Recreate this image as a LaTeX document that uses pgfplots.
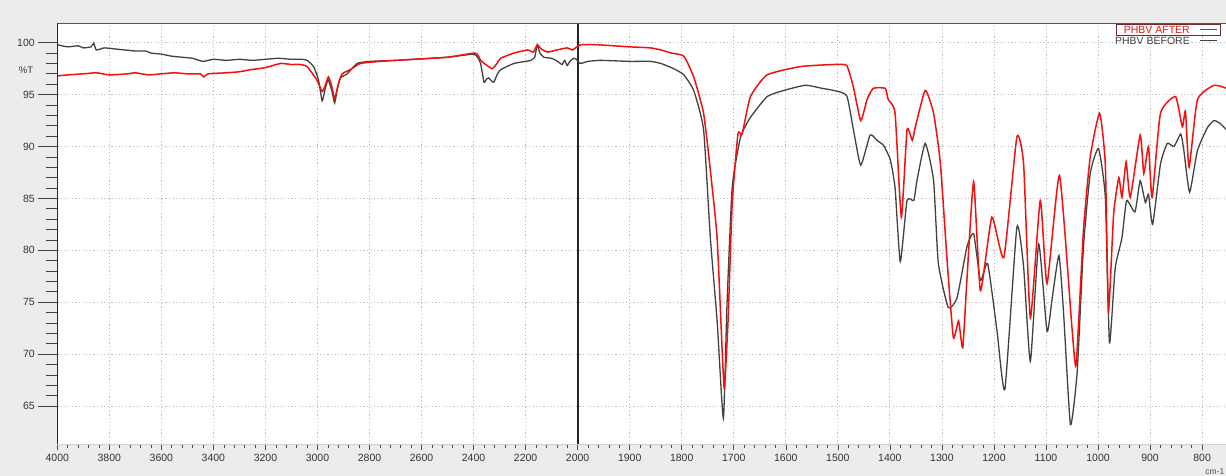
\documentclass[border=0pt]{standalone}
\usepackage{pgfplots}
\pgfplotsset{compat=1.18}
\usepackage{pgfplotstable}
\usepackage{fontspec}
\setmainfont{Liberation Sans}

\definecolor{spred}{RGB}{245,15,15}
\definecolor{spgray}{RGB}{65,65,65}
\definecolor{bgc}{RGB}{236,236,236}

% wavenumber (cm-1) and %T
\pgfplotstableread{
wn T
4000 99.8
3960 99.6
3920 99.7
3900 99.5
3870 99.6
3860 99.95
3850 99.3
3820 99.5
3780 99.4
3740 99.3
3700 99.2
3660 99.2
3640 99.0
3600 98.9
3560 98.7
3520 98.6
3480 98.5
3440 98.2
3400 98.4
3350 98.3
3300 98.4
3250 98.3
3200 98.4
3150 98.5
3100 98.4
3060 98.4
3040 98.3
3015 97.7
2996 96.4
2982 94.4
2970 95.6
2959 96.4
2945 95.4
2934 94.2
2924 95.5
2912 96.6
2886 97.0
2848 98.0
2800 98.2
2700 98.3
2630 98.4
2500 98.6
2400 98.9
2385 98.6
2373 98.0
2360 96.2
2350 96.5
2342 96.6
2330 96.3
2322 96.2
2310 96.9
2296 97.4
2245 98.0
2200 98.2
2180 98.3
2165 98.6
2155 99.8
2145 99.0
2130 98.6
2100 98.5
2077 98.2
2060 97.9
2050 98.3
2040 97.8
2030 98.2
2015 98.5
2005 98.4
1995 98.0
1980 98.2
1956 98.3
1900 98.2
1860 98.2
1840 98.0
1820 97.6
1808 97.3
1796 96.9
1777 95.4
1758 91.6
1745 81.2
1732 73.2
1720 63.8
1713 74.8
1703 86.1
1687 90.9
1668 92.8
1636 94.8
1604 95.4
1562 95.9
1530 95.6
1508 95.4
1483 94.9
1470 91.6
1456 88.2
1438 91.1
1425 90.6
1412 90.1
1399 88.7
1390 86.0
1380 78.9
1367 84.8
1354 84.8
1348 86.7
1332 90.3
1316 86.7
1307 78.8
1288 74.5
1271 75.4
1252 80.3
1239 81.6
1226 77.1
1212 78.7
1194 72.2
1179 66.6
1156 82.2
1143 78.4
1130 69.3
1114 80.6
1098 72.2
1088 75.4
1075 79.5
1066 73.8
1053 63.2
1040 68.3
1028 80.3
1015 87.4
999 89.8
986 85.1
978 71.1
967 78.3
954 81.2
945 84.8
929 83.7
919 86.7
909 84.6
903 85.4
895 82.5
880 88.3
867 90.3
854 90.0
841 91.2
835 89.6
824 85.6
809 89.6
790 91.8
777 92.5
765 92.2
753 91.6
}\before

\pgfplotstableread{
wn T
4000 96.8
3960 96.9
3900 97.0
3850 97.1
3800 96.9
3731 97.0
3700 97.1
3650 96.9
3600 97.0
3550 97.1
3500 97.0
3450 97.0
3438 96.7
3420 97.0
3350 97.1
3300 97.2
3257 97.4
3200 97.6
3142 98.0
3100 97.9
3067 97.9
3040 97.7
3002 96.4
2982 95.3
2970 95.9
2958 96.7
2945 95.8
2934 94.6
2920 96.0
2905 97.0
2874 97.4
2835 98.0
2758 98.2
2630 98.4
2500 98.6
2393 99.0
2373 98.3
2348 97.8
2328 97.5
2310 98.0
2296 98.5
2245 99.0
2193 99.3
2170 99.1
2155 99.8
2140 99.4
2116 99.1
2080 99.3
2040 99.5
2020 99.3
1994 99.8
1962 99.8
1900 99.6
1860 99.5
1840 99.3
1820 99.0
1796 98.7
1777 96.7
1758 93.2
1745 87.7
1732 81.2
1722 70.0
1718 66.7
1711 73.2
1703 84.5
1692 91.2
1684 91.2
1668 94.8
1636 96.9
1572 97.7
1508 97.9
1483 97.8
1470 95.7
1456 92.5
1444 94.5
1432 95.6
1409 95.6
1403 94.5
1390 93.2
1378 83.2
1367 91.6
1357 90.6
1351 91.9
1332 95.4
1316 93.2
1303 88.4
1290 79.0
1278 71.6
1268 73.2
1260 70.6
1252 77.1
1239 86.6
1226 76.1
1204 83.2
1181 79.3
1156 90.9
1143 88.3
1130 73.5
1111 84.8
1098 76.8
1074 87.2
1050 72.5
1042 69.0
1028 81.9
1015 89.0
997 93.2
986 88.3
980 74.1
970 83.5
960 87.0
954 85.1
946 88.5
938 85.1
919 91.1
912 87.4
903 90.0
896 85.1
880 93.2
851 94.8
838 91.9
832 93.4
825 88.0
809 94.5
777 95.9
753 95.6
}\after

\begin{document}
\begin{tikzpicture}[x=1pt,y=1pt]
\useasboundingbox (-57.3,-31.5) rectangle (1168.7,444.5);
\fill[bgc] (-57.3,-31.5) rectangle (1168.7,444.5);

% main axis: the x scale doubles below 2000 cm-1
\begin{axis}[
    at={(0,0)}, anchor=south west,
    scale only axis,
    width=1168.7pt, height=421.2pt,
    xmin=0, xmax=4492,
    ymin=61.29, ymax=101.87,
    axis background/.style={fill=white},
    axis x line*=bottom, axis y line*=left,
    x axis line style={draw=gray!35},
    y axis line style={draw=none},
    tick align=outside,
    major tick length=6pt, minor tick length=4pt,
    xtick={0,200,...,4400},
    xticklabels={4000,3800,3600,3400,3200,3000,2800,2600,2400,2200,2000,1900,1800,1700,1600,1500,1400,1300,1200,1100,1000,900,800},
    minor x tick num=4,
    xtick style={black!70, line width=0.6pt},
    ytick={65,70,...,100},
    yticklabels={},
    ytick style={draw=none},
    xticklabel style={font=\fontsize{10.5}{12}\selectfont, text=black!80},
    grid=major,
    major grid style={gray!50, line width=0.8pt, dash pattern=on 1.2pt off 2.4pt},
    x filter/.expression={x>=2000 ? 4000-x : 6000-2*x},
]
\draw[black!85, line width=1.8pt] (axis cs:2000,61.29) -- (axis cs:2000,101.87);
\addplot[spgray, line width=1.3pt, smooth, tension=0.3] table[x=wn, y=T] {\before};
\addplot[spred, line width=1.5pt, smooth, tension=0.3] table[x=wn, y=T] {\after};
\draw[gray!70!black, line width=2pt] (rel axis cs:0,1) -- (rel axis cs:1,1);
\end{axis}

% y ruler with long ticks
\begin{axis}[
    at={(0,0)}, anchor=south west,
    scale only axis,
    width=1168.7pt, height=421.2pt,
    xmin=0, xmax=4492,
    ymin=61.29, ymax=101.87,
    axis x line=none, axis y line*=left,
    y axis line style={draw=black!85, line width=1.3pt},
    tick align=outside,
    major tick length=19pt, minor tick length=11pt,
    ytick={65,70,...,100},
    minor y tick num=4,
    ytick style={black!75, line width=0.7pt},
    yticklabel style={font=\fontsize{10.5}{12}\selectfont, text=black!80},
    /pgf/number format/assume math mode=true,
]
\end{axis}

\node[font=\fontsize{9.5}{11}\selectfont, text=black!80] at (-31.3,374.5) {\%T};
\node[font=\fontsize{8.5}{10}\selectfont, text=black!70, anchor=east, inner sep=1pt] at (1168.2,-27) {cm-1};

% legend
\draw[gray!50!spred!60!black, line width=0.6pt] (1058.7,409.5) rectangle (1162.7,420.5);
\node[font=\fontsize{10.5}{12}\selectfont, text=spred, anchor=east, inner sep=0pt] at (1132.7,415) {PHBV AFTER};
\draw[spred, line width=1.2pt] (1142.7,415) -- (1159.7,415);
\node[font=\fontsize{10.5}{12}\selectfont, text=black!75, anchor=east, inner sep=0pt] at (1132.7,404) {PHBV BEFORE};
\draw[spgray, line width=1.2pt] (1142.7,404) -- (1159.7,404);
\end{tikzpicture}
\end{document}
